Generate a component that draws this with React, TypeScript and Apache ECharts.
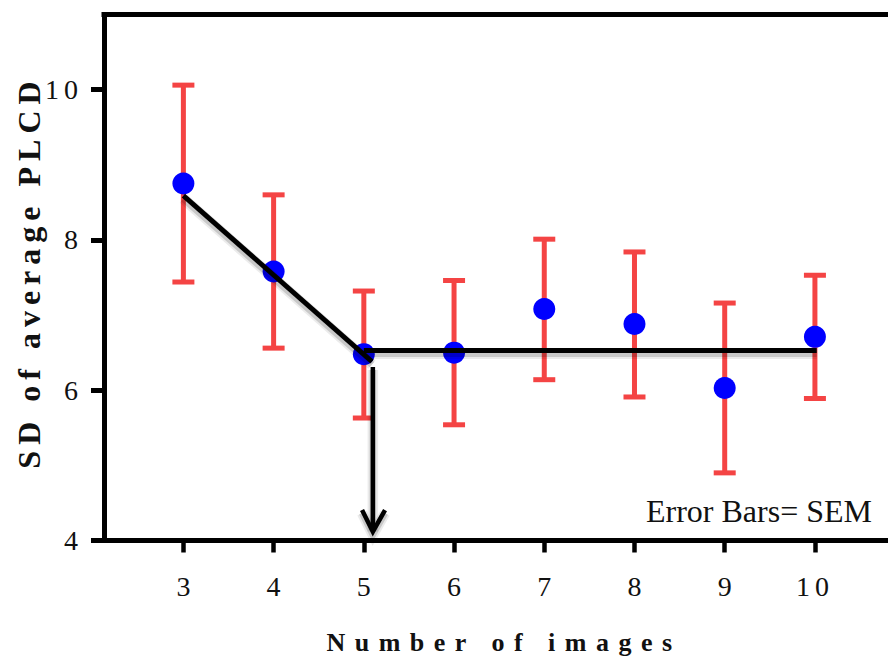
import React, { useEffect, useRef } from "react";
import * as echarts from "echarts";

// ---- data ----
const images = [3, 4, 5, 6, 7, 8, 9, 10];
const meanSD = [8.75, 7.58, 6.48, 6.5, 7.08, 6.88, 6.03, 6.71];
const semLower = [7.44, 6.56, 5.63, 5.54, 6.14, 5.91, 4.9, 5.89];
const semUpper = [10.06, 8.6, 7.32, 7.46, 8.01, 7.84, 7.16, 7.53];
const yTicks = [4, 6, 8, 10];
const trendSlope = [
  [3, 8.59],
  [5.09, 6.38],
];
const trendFlat = [
  [5, 6.53],
  [10.02, 6.53],
];
const arrowShaft = [
  [5.1, 6.31],
  [5.1, 4.16],
];
const arrowHead = [
  [4.98, 4.405],
  [5.1, 4.117],
  [5.235, 4.405],
];

const X_TITLE = "Number of images";
const Y_TITLE = "SD of average PLCD";
const NOTE = "Error Bars= SEM";

const SERIF = "'Liberation Serif', 'Times New Roman', Times, serif";
const RED = "#F44444";
const BLUE = "#0000FF";

const blackPaths = [
  { pts: trendSlope, w: 5 },
  { pts: trendFlat, w: 5 },
  { pts: arrowShaft, w: 4.5 },
  { pts: arrowHead, w: 4.5 },
];

export default function App() {
  const ref = useRef<HTMLDivElement>(null);

  useEffect(() => {
    if (!ref.current) return;
    const el = ref.current;
    const chart = echarts.init(el, undefined, { renderer: "svg" });

    const option: any = {
      animation: false,
      backgroundColor: "#fff",
      grid: { left: 104, right: 0, top: 14.5, bottom: 123.5, containLabel: false },
      xAxis: [
        {
          type: "value",
          min: 2.12,
          max: 10.81,
          position: "bottom",
          splitLine: { show: false },
          axisLine: { show: true, onZero: false, lineStyle: { color: "#000", width: 5, cap: "square" } },
          axisTick: { show: true, customValues: images, length: 12, lineStyle: { color: "#000", width: 4.5 } },
          axisLabel: {
            customValues: images,
            margin: 32,
            fontSize: 28,
            fontFamily: SERIF,
            color: "#111",
          },
        },
        {
          type: "value",
          min: 2.12,
          max: 10.81,
          position: "top",
          splitLine: { show: false },
          axisLine: { show: true, onZero: false, lineStyle: { color: "#000", width: 5, cap: "square" } },
          axisTick: { show: false },
          axisLabel: { show: false },
        },
      ],
      yAxis: {
        type: "value",
        min: 4,
        max: 11,
        splitLine: { show: false },
        axisLine: { show: true, onZero: false, lineStyle: { color: "#000", width: 5, cap: "square" } },
        axisTick: { show: true, customValues: yTicks, length: 13, lineStyle: { color: "#000", width: 5 } },
        axisLabel: {
          customValues: yTicks,
          margin: 26,
          fontSize: 28,
          fontFamily: SERIF,
          color: "#111",
        },
      },
      series: [
        {
          type: "custom",
          name: "SEM",
          z: 2,
          data: images.map((n, i) => [n, semLower[i], semUpper[i]]),
          encode: { x: 0, y: [1, 2] },
          renderItem: (params: any, api: any) => {
            const x = api.value(0);
            const pLo = api.coord([x, api.value(1)]);
            const pHi = api.coord([x, api.value(2)]);
            const hw = 11;
            const st = { stroke: RED, lineWidth: 5 };
            return {
              type: "group",
              children: [
                { type: "line", shape: { x1: pHi[0], y1: pHi[1], x2: pLo[0], y2: pLo[1] }, style: st },
                { type: "line", shape: { x1: pHi[0] - hw, y1: pHi[1], x2: pHi[0] + hw, y2: pHi[1] }, style: st },
                { type: "line", shape: { x1: pLo[0] - hw, y1: pLo[1], x2: pLo[0] + hw, y2: pLo[1] }, style: st },
              ],
            };
          },
        },
        {
          type: "scatter",
          name: "Mean",
          z: 3,
          symbol: "circle",
          symbolSize: 22,
          itemStyle: { color: BLUE, opacity: 1 },
          data: images.map((n, i) => [n, meanSD[i]]),
        },
        {
          type: "custom",
          name: "trend",
          z: 4,
          data: blackPaths.map((p, i) => [p.pts[0][0], p.pts[0][1], i]),
          encode: { x: 0, y: 1 },
          renderItem: (params: any, api: any) => {
            const path = blackPaths[api.value(2)];
            const pts = path.pts.map((p) => api.coord(p));
            const shifted = (dx: number, dy: number) => pts.map((q: number[]) => [q[0] + dx, q[1] + dy]);
            return {
              type: "group",
              children: [
                {
                  type: "polyline",
                  shape: { points: shifted(0, 3) },
                  style: { stroke: "rgba(0,0,0,0.08)", lineWidth: path.w + 6, fill: null },
                },
                {
                  type: "polyline",
                  shape: { points: shifted(0, 3) },
                  style: { stroke: "rgba(0,0,0,0.15)", lineWidth: path.w + 2, fill: null },
                },
                {
                  type: "polyline",
                  shape: { points: pts },
                  style: { stroke: "#000", lineWidth: path.w, fill: null, lineJoin: "miter" },
                },
              ],
            };
          },
        },
      ],
      graphic: [
        {
          type: "text",
          x: 872,
          y: 511,
          style: {
            text: NOTE,
            fontSize: 32,
            fontFamily: SERIF,
            fill: "#111",
            align: "right",
            verticalAlign: "middle",
          },
        },
        {
          type: "text",
          x: 504,
          y: 642,
          style: {
            text: X_TITLE,
            fontSize: 26,
            fontWeight: "bold",
            fontFamily: SERIF,
            fill: "#111",
            align: "center",
            verticalAlign: "middle",
          },
        },
        {
          type: "text",
          x: 29,
          y: 272,
          rotation: Math.PI / 2,
          style: {
            text: Y_TITLE,
            fontSize: 32,
            fontWeight: "bold",
            fontFamily: SERIF,
            fill: "#111",
            align: "center",
            verticalAlign: "middle",
          },
        },
      ],
    };

    chart.setOption(option);

    const applySpacing = () => {
      el.querySelectorAll("text").forEach((t) => {
        const s = t.textContent;
        if (s === X_TITLE) t.setAttribute("letter-spacing", "9.5");
        else if (s === Y_TITLE) t.setAttribute("letter-spacing", "6");
        else if (s === "10") {
          t.setAttribute("letter-spacing", "5");
          if (t.getAttribute("text-anchor") === "end") t.setAttribute("dx", "5");
        }
      });
    };
    applySpacing();
    chart.on("finished", applySpacing);
    const timer = setTimeout(applySpacing, 50);

    return () => {
      clearTimeout(timer);
      chart.dispose();
    };
  }, []);

  return (
    <div
      ref={ref}
      style={{ position: "fixed", left: 0, top: 0, width: 888, height: 664, background: "#fff" }}
    />
  );
}
